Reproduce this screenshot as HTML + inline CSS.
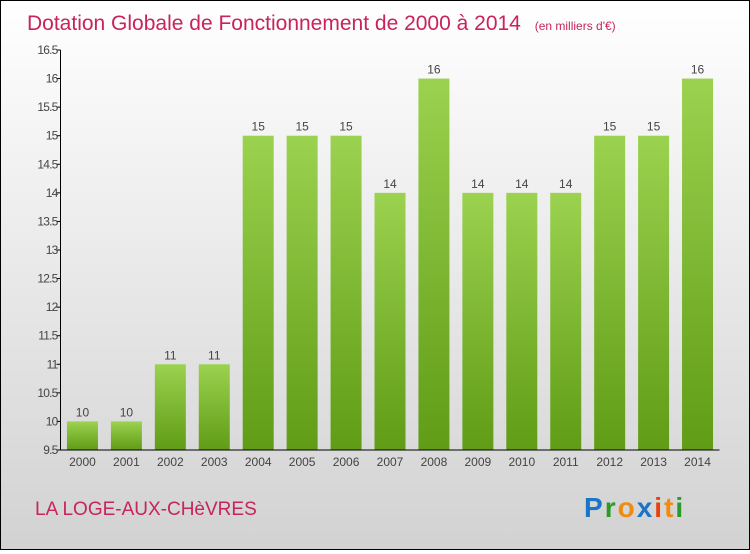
<!DOCTYPE html>
<html><head><meta charset="utf-8"><style>
html,body{margin:0;padding:0}
body{width:750px;height:550px;overflow:hidden;font-family:"Liberation Sans",sans-serif}
#wrap{position:relative;width:748px;height:548px;border:1px solid #000;background:linear-gradient(#ffffff,#d2d2d2)}
</style></head><body>
<div id="wrap">
<svg id="chart" width="748" height="548">
<defs><linearGradient id="g" x1="0" y1="0" x2="0" y2="1"><stop offset="0" stop-color="#9bd24f"/><stop offset="1" stop-color="#609c16"/></linearGradient></defs>
<text x="26" y="29" font-size="21" fill="#c8245a">Dotation Globale de Fonctionnement de 2000 à 2014 <tspan font-size="12" dx="8">(en milliers d'€)</tspan></text>
<text x="34" y="514" font-size="19" fill="#c8245a">LA LOGE-AUX-CHèVRES</text>
<text x="583" y="516" font-size="28" font-weight="bold" letter-spacing="2"><tspan fill="#1a74c8">P</tspan><tspan fill="#2a9a2a">r</tspan><tspan fill="#f28a10">o</tspan><tspan fill="#1a74c8">x</tspan><tspan fill="#e84010">i</tspan><tspan fill="#f28a10">t</tspan><tspan fill="#2a9a2a">i</tspan></text>
<g id="plot"></g>
</svg></div>
<script>
const categories=["2000","2001","2002","2003","2004","2005","2006","2007","2008","2009","2010","2011","2012","2013","2014"];
const values=[10,10,11,11,15,15,15,14,16,14,14,14,15,15,16];
const yTicks=[9.5,10,10.5,11,11.5,12,12.5,13,13.5,14,14.5,15,15.5,16,16.5];
const yMin=9.5,yMax=16.5,plotTop=49,plotBot=449,plotLeft=59.5,plotRight=718.5;
const y=v=>plotBot-(v-yMin)/(yMax-yMin)*(plotBot-plotTop);
const step=(plotRight-plotLeft)/categories.length;
const xc=i=>plotLeft+step*(i+0.5);
const g=document.getElementById('plot');
const NS="http://www.w3.org/2000/svg";
function mk(t,a){const e=document.createElementNS(NS,t);for(const k in a)e.setAttribute(k,a[k]);g.appendChild(e);return e;}
values.forEach((v,i)=>{
 const r=mk('rect',{x:xc(i)-15.5,y:y(v),width:31,height:plotBot-y(v),fill:'url(#g)'});
 
 
 const t=mk('text',{x:xc(i),y:y(v)-5,'font-size':12,fill:'#444','text-anchor':'middle'});t.textContent=v;
 
 
 const c=mk('text',{x:xc(i),y:plotBot+16,'font-size':12,fill:'#444','text-anchor':'middle'});c.textContent=categories[i];
 
 
});
yTicks.forEach(v=>{
 mk('line',{x1:plotLeft-4,x2:plotLeft,y1:y(v),y2:y(v),stroke:'#000'});
 const t=mk('text',{x:plotLeft-3,y:y(v)+4,'font-size':12,fill:'#444','text-anchor':'end','letter-spacing':'-0.8'});t.textContent=v;
 
 
});
const ya=mk('line',{x1:plotLeft,x2:plotLeft,y1:plotTop,y2:plotBot,stroke:'#000'});


const xa=mk('line',{x1:plotLeft,x2:plotRight,y1:plotBot,y2:plotBot,stroke:'#000'});


</script>
</body></html>
